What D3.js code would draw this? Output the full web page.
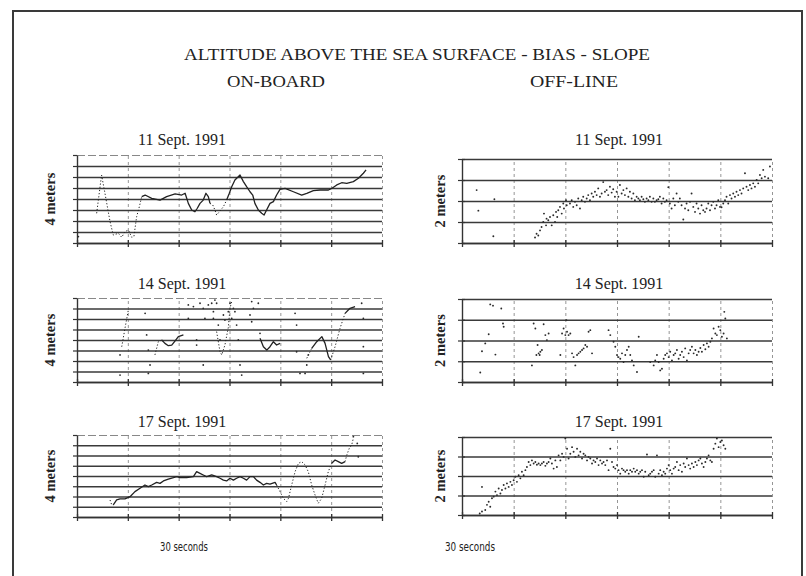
<!DOCTYPE html>
<html><head><meta charset="utf-8">
<script src="https://cdn.jsdelivr.net/npm/d3@7"></script>
<style>body{margin:0;background:#fff}svg{display:block}</style>
</head><body><svg id="c" width="806" height="576"></svg>
<script>
// ---------------- DATA ----------------
const mainTitle = "ALTITUDE ABOVE THE SEA SURFACE - BIAS - SLOPE";
const columnTitles = ["ON-BOARD", "OFF-LINE"];
const dates = ["11 Sept. 1991", "14 Sept. 1991", "17 Sept. 1991"];
const yLabels = ["4 meters", "2 meters"];
const xLabel = "30 seconds";
const xTicks = [0, 30, 60, 90, 120, 150, 180];          // seconds
const onboardTicks = [0, 0.5, 1, 1.5, 2, 2.5, 3, 3.5, 4]; // meters
const offlineTicks = [0, 0.5, 1, 1.5, 2];                 // meters

// on-board traces [seconds, meters]; null = break in record
const onboard11 = [[11.6,1.35],[14.5,3.09],[16.5,2.26],[19.5,0.97],[21.4,0.36],[24.4,0.44],[26.4,0.26],[28.3,0.52],[30.3,0.59],[32.3,0.26],[33.6,0.30],[35.2,1.20],[36.8,1.65],[38.2,2.11],[40.2,2.18],[44.1,2.03],[49.0,1.95],[52.9,2.11],[57.9,2.23],[61.8,2.18],[63.8,2.26],[65.7,1.80],[67.7,1.50],[69.6,1.42],[71.0,1.58],[72.6,1.80],[74.5,1.95],[76.1,2.26],[77.5,2.11],[78.5,1.80],[80.1,1.73],[81.4,1.50],[82.4,1.27],[84.0,1.42],[86.4,1.65],[88.3,1.95],[89.9,2.26],[91.3,2.56],[93.2,2.86],[96.2,3.09],[98.2,2.79],[100.1,2.56],[102.1,2.33],[103.7,2.18],[105.0,1.80],[107.0,1.50],[109.0,1.35],[110.4,1.27],[111.9,1.50],[113.9,1.80],[115.9,1.88],[117.8,2.18],[119.8,2.44],[122.8,2.48],[127.7,2.33],[132.6,2.18],[135.6,2.26],[139.5,2.38],[143.5,2.41],[148.4,2.41],[150.3,2.48],[153.3,2.64],[156.2,2.74],[159.2,2.71],[163.1,2.79],[166.1,2.94],[169.0,3.17],[170.6,3.32]];
const onboard11Interp = [[0,37.5],[79,88]];
const onboard11Dots = [[0.8,0.29]];

const onboard14 = [[26.4,1.68],[28.3,2.55],[30.3,3.43],null,[46.0,1.29],[48.0,1.92],[50.0,2.00],[51.9,1.84],[53.9,1.73],[55.9,1.76],[57.8,1.95],[59.8,2.16],[62.8,2.24],null,[82.4,2.40],[84.4,1.44],[85.4,1.29],[87.3,1.76],[89.3,2.60],[90.3,3.51],[91.3,3.83],null,[108.0,2.08],[110.0,1.68],[112.0,1.52],[113.9,1.68],[115.9,1.92],[117.8,1.76],[119.8,1.84],null,[135.6,1.13],[138.5,1.60],[141.5,1.92],[144.5,2.16],[146.4,1.84],[148.4,1.21],[149.7,1.05],[152.3,1.68],[155.2,2.55],[158.2,3.27],[161.1,3.51],[164.1,3.59]];
const onboard14Interp = [[25,31],[45,49],[81,92],[135,139],[149.5,158.5]];
const onboard14Dots = [[25.4,0.33],[25.4,1.29],[40.2,3.27],[41.1,2.24],[42.1,1.52],[43.1,0.81],[42.1,0.41],[65.7,3.67],[65.7,3.03],[68.7,3.59],[72.6,3.75],[74.5,3.51],[75.5,3.03],[77.5,3.67],[79.5,3.75],[80.5,3.03],[80.5,3.35],[81.4,3.90],[82.4,3.75],[83.4,2.71],[84.4,2.00],[86.4,3.19],[87.3,2.95],[90.3,3.75],[89.3,3.35],[91.3,3.03],[92.3,3.51],[93.2,3.35],[94.2,2.71],[95.2,2.00],[96.2,0.81],[97.2,0.33],[103.1,3.83],[104.1,3.51],[103.1,2.87],[102.1,3.19],[107.0,3.75],[108.0,2.32],[70.6,2.00],[70.6,1.76],[74.5,0.81],[128.7,3.27],[129.6,2.71],[129.6,1.44],[131.6,0.41],[134.6,0.41],[135.6,0.81],[136.5,1.29],[168.0,3.75],[169.0,3.03],[169.0,1.68],[169.0,0.41]];

const onboard17 = [[19.5,0.83],[20.5,0.59],[21.4,0.59],[23.4,0.83],[25.4,0.88],[28.3,0.88],[31.3,0.99],[34.2,1.24],[37.2,1.40],[40.1,1.56],[42.1,1.48],[44.1,1.56],[47.0,1.69],[49.0,1.64],[51.0,1.76],[53.9,1.85],[56.9,1.92],[58.8,1.97],[60.8,1.92],[64.7,1.92],[68.7,1.97],[70.6,2.21],[72.6,2.13],[74.5,2.05],[76.5,1.97],[79.5,2.05],[82.4,1.97],[84.4,1.89],[86.4,1.80],[88.3,1.76],[90.3,1.89],[92.3,1.80],[94.2,1.89],[96.2,1.97],[98.2,1.89],[100.1,1.80],[102.1,1.97],[104.1,1.97],[106.0,1.80],[108.0,1.69],[110.0,1.56],[111.9,1.64],[113.9,1.60],[116.9,1.69],[117.8,1.56],[119.8,1.24],[121.8,0.91],[123.8,0.75],[124.8,0.91],[126.7,1.56],[128.7,2.21],[130.7,2.62],[132.6,2.70],[134.6,2.54],[136.5,2.21],[138.5,1.56],[140.5,1.07],[142.4,0.67],[144.4,0.91],[146.4,1.56],[148.3,2.21],[150.3,2.62],[152.3,2.78],[154.2,2.70],[156.2,2.62],[158.2,2.70],[159.2,3.02],[160.7,3.35],[162.1,3.51],[163.1,3.84]];
const onboard17Interp = [[19,21],[118,150],[158.5,170]];
const onboard17Dots = [[163.1,3.92],[165.4,3.59],[166.0,2.94]];

// off-line estimates [seconds, meters]
const offline11 = [[8.5,1.26],[9.5,0.77],[18.2,0.16],[18.8,1.04],[42.4,0.13],[43.3,0.22],[44.3,0.18],[45.3,0.30],[46.2,0.38],[47.2,0.50],[47.6,0.70],[48.8,0.42],[49.1,0.58],[50.1,0.54],[51.1,0.62],[52.1,0.42],[53.0,0.66],[54.0,0.50],[54.6,0.74],[55.3,0.62],[55.9,0.78],[56.9,0.86],[57.9,0.70],[58.8,0.94],[59.2,0.82],[60.4,1.02],[60.8,0.90],[62.7,0.94],[63.7,1.02],[64.6,0.86],[65.6,0.98],[66.6,0.90],[67.5,1.06],[68.5,0.82],[69.5,1.02],[70.4,1.10],[71.4,0.98],[72.4,1.06],[73.3,1.14],[74.3,1.02],[75.3,1.18],[76.2,1.10],[77.2,1.22],[78.2,1.14],[79.1,1.30],[80.1,1.10],[81.1,1.18],[82.0,1.45],[83.0,1.22],[84.0,1.26],[84.9,1.14],[85.9,1.34],[86.9,1.20],[87.8,1.28],[88.8,1.10],[89.8,1.22],[90.8,1.10],[91.7,1.38],[92.7,1.18],[93.7,1.26],[94.6,1.14],[95.6,1.30],[96.6,1.10],[97.5,1.22],[98.5,1.06],[99.5,1.18],[100.4,1.02],[101.4,1.10],[102.4,1.06],[103.3,1.02],[104.3,1.10],[105.3,1.04],[106.2,0.98],[107.2,1.06],[108.2,1.02],[109.1,1.10],[110.1,0.98],[111.1,1.06],[112.0,0.98],[113.0,1.02],[114.0,1.04],[114.9,1.10],[115.9,0.94],[116.9,1.06],[117.8,0.98],[118.8,1.02],[119.8,1.33],[120.7,0.94],[121.7,0.82],[122.7,1.06],[123.6,0.90],[124.6,1.18],[125.6,0.98],[126.5,1.06],[127.5,0.90],[128.5,0.56],[129.5,0.82],[130.4,0.94],[131.4,0.78],[132.4,0.98],[133.3,1.18],[134.3,0.86],[135.3,0.74],[136.2,0.94],[137.2,0.82],[138.2,0.70],[139.1,0.90],[140.1,0.78],[141.1,0.74],[142.0,0.82],[143.0,0.94],[144.0,0.78],[144.9,0.90],[145.9,0.98],[146.9,0.82],[147.8,0.90],[148.8,1.02],[149.8,0.86],[150.7,0.85],[151.7,0.94],[152.7,1.02],[153.6,1.10],[154.6,0.94],[155.6,1.14],[156.5,1.06],[157.5,1.18],[158.5,1.10],[159.4,1.22],[160.4,1.14],[161.4,1.26],[162.3,1.18],[163.3,1.30],[164.3,1.66],[165.2,1.34],[166.2,1.26],[167.2,1.38],[168.1,1.30],[169.1,1.42],[170.1,1.34],[171.1,1.50],[172.0,1.42],[173.0,1.62],[174.0,1.54],[174.9,1.74],[175.9,1.58],[177.8,1.54],[178.8,1.82]];

const offline14 = [[10.6,0.23],[11.6,0.74],[13.5,0.93],[15.5,1.15],[16.4,1.87],[18.0,1.84],[19.4,0.66],[22.8,1.77],[23.8,1.41],[24.2,1.33],[40.6,0.40],[41.6,1.41],[42.6,1.29],[43.2,0.65],[43.9,0.89],[44.5,0.69],[45.1,0.65],[45.5,0.73],[46.4,0.77],[47.4,1.39],[48.4,1.13],[49.3,1.01],[50.3,1.17],[57.1,0.65],[58.1,1.17],[59.0,1.29],[60.0,1.13],[60.6,1.49],[61.0,1.21],[61.9,1.13],[62.9,1.17],[63.9,0.69],[64.8,0.60],[65.8,0.40],[66.8,0.65],[67.7,0.69],[68.7,0.73],[69.7,0.77],[70.6,0.81],[71.6,0.89],[72.6,0.85],[73.5,1.21],[74.5,1.25],[75.5,0.69],[85.1,1.25],[86.1,1.13],[88.0,0.97],[89.0,0.85],[90.0,0.65],[90.9,0.60],[91.9,0.56],[92.9,0.69],[93.8,0.48],[94.8,0.65],[95.8,0.77],[96.8,0.85],[97.7,0.65],[98.7,0.52],[99.7,0.40],[101.6,0.24],[102.6,1.09],[109.3,0.48],[111.3,0.40],[112.2,0.52],[113.2,0.65],[114.2,0.48],[115.1,0.28],[116.1,0.32],[117.1,0.56],[118.0,0.65],[119.0,0.69],[120.0,0.60],[120.9,0.73],[121.9,0.52],[122.9,0.65],[123.8,0.69],[124.8,0.77],[125.8,0.56],[126.7,0.65],[127.7,0.73],[128.7,0.60],[129.6,0.81],[130.6,0.52],[131.6,0.69],[132.5,0.77],[133.5,0.85],[134.5,0.69],[135.5,0.77],[136.4,0.65],[137.4,0.73],[138.4,0.82],[139.3,0.73],[140.3,0.89],[141.3,0.79],[142.2,0.93],[143.2,0.85],[144.2,0.97],[145.1,1.05],[146.1,1.29],[147.1,1.17],[148.0,1.13],[149.0,1.33],[150.0,1.25],[150.9,1.09],[151.9,1.17],[152.3,1.69],[152.9,1.53],[153.8,1.05]];

const offline17 = [[11.6,0.72],[10.3,0.04],[11.6,0.09],[13.5,0.13],[14.5,0.26],[15.5,0.34],[16.4,0.21],[17.4,0.43],[18.4,0.47],[19.4,0.60],[20.3,0.51],[21.3,0.68],[22.3,0.55],[23.2,0.64],[24.2,0.77],[25.2,0.68],[26.1,0.81],[27.1,0.72],[28.1,0.85],[29.0,0.77],[30.0,0.89],[31.0,0.98],[31.9,0.85],[32.9,1.02],[33.9,0.94],[34.8,1.11],[35.8,1.02],[36.8,1.15],[37.7,1.23],[38.7,1.36],[39.7,1.28],[40.6,1.40],[41.6,1.32],[42.6,1.36],[43.5,1.29],[44.5,1.32],[45.5,1.28],[46.4,1.32],[47.4,1.36],[48.4,1.26],[49.3,1.32],[50.3,1.36],[51.3,1.45],[52.2,1.32],[53.2,1.19],[54.2,1.40],[55.1,1.23],[56.1,1.53],[57.1,1.40],[58.1,1.57],[59.0,1.49],[60.0,1.96],[61.0,1.70],[61.9,1.45],[62.9,1.57],[63.9,1.74],[64.8,1.62],[65.8,1.49],[66.8,1.70],[67.7,1.53],[68.7,1.62],[69.7,1.45],[70.6,1.57],[71.6,1.53],[72.6,1.40],[73.5,1.49],[74.5,1.45],[75.5,1.32],[76.4,1.40],[77.4,1.36],[78.4,1.45],[79.3,1.28],[80.3,1.40],[81.3,1.32],[82.2,1.36],[83.2,1.28],[84.2,1.40],[85.1,1.15],[86.1,1.70],[87.1,1.36],[88.0,1.23],[89.0,1.19],[90.0,1.28],[90.9,1.15],[91.9,1.06],[92.9,1.19],[93.8,1.15],[94.8,1.11],[95.8,1.15],[96.8,1.06],[97.7,1.15],[98.7,1.11],[99.7,1.19],[100.6,1.11],[101.6,1.15],[102.6,1.06],[103.5,1.11],[104.5,1.15],[105.5,0.98],[106.4,1.11],[107.4,1.55],[108.4,1.02],[109.3,1.06],[110.3,1.11],[111.3,1.15],[112.2,0.98],[113.2,1.53],[114.2,1.06],[115.1,1.15],[116.1,1.02],[117.1,1.11],[118.0,1.06],[119.0,1.19],[120.0,1.28],[120.9,1.15],[121.9,1.06],[122.9,1.19],[123.8,1.23],[124.8,1.36],[125.8,1.15],[126.7,1.28],[127.7,1.11],[128.7,1.32],[129.6,1.23],[130.6,1.45],[131.6,1.28],[132.5,1.19],[133.5,1.32],[134.5,1.23],[135.5,1.36],[136.4,1.28],[137.4,1.40],[138.4,1.45],[139.3,1.32],[140.3,1.23],[141.3,1.36],[142.2,1.45],[143.2,1.53],[144.2,1.40],[145.1,1.36],[146.1,1.70],[147.1,1.83],[148.0,1.96],[149.0,1.74],[150.0,1.87],[150.9,1.91],[151.9,1.79],[152.9,1.70]];

// ---------------- DRAWING ----------------
const svg = d3.select("#c");
const SERIF = "'Liberation Serif','Times New Roman',serif";
svg.append("rect").attr("width",806).attr("height",576).attr("fill","#fff");
svg.append("rect").attr("x",13).attr("y",11).attr("width",789).attr("height",600)
  .attr("fill","none").attr("stroke","#3a3a3a").attr("stroke-width",2);

const txt = (x,y,s,size,opts={}) => {
  const t = svg.append("text").attr("x",x).attr("y",y).attr("text-anchor","middle")
    .attr("font-family",opts.family||SERIF).attr("font-size",size).attr("fill","#222").text(s);
  if (opts.len) t.attr("textLength",opts.len).attr("lengthAdjust","spacingAndGlyphs");
  if (opts.weight) t.attr("font-weight",opts.weight);
  if (opts.rot) t.attr("transform",`rotate(-90,${x},${y})`);
  return t;
};
txt(417,60,mainTitle,17,{len:466});
txt(276,87,columnTitles[0],17,{len:98});
txt(574,87,columnTitles[1],17,{len:88});

const left = {x0:77, x1:382, tops:[155,298,435], bots:[243,382,517], titleX:182, labelX:55};
const right = {x0:462, x1:772, tops:[159,299,437], bots:[243,382,515], titleX:619, labelX:445};
const titleY = [145,289,427];

function frame(cfg, i, ymax, yticks, kind){
  const y0 = cfg.tops[i], y1 = cfg.bots[i];
  const x = d3.scaleLinear().domain([0,180]).range([cfg.x0,cfg.x1]);
  const y = d3.scaleLinear().domain([0,ymax]).range([y1,y0]);
  const g = svg.append("g");
  // vertical dashed grid
  g.append("g").attr("transform",`translate(0,${y1})`)
    .call(d3.axisBottom(x).tickValues(xTicks).tickSize(-(y1-y0)).tickFormat(""))
    .call(a=>{a.select(".domain").remove();
      a.selectAll(".tick line").attr("stroke","#8a8a8a").attr("stroke-width",0.9).attr("stroke-dasharray","3,3");});
  // horizontal grid
  g.append("g").attr("transform",`translate(${cfg.x0},0)`)
    .call(d3.axisLeft(y).tickValues(yticks).tickSize(-(cfg.x1-cfg.x0)).tickFormat(""))
    .call(a=>{a.select(".domain").remove();
      a.selectAll(".tick line").attr("stroke","#3a3a3a").attr("stroke-width",kind==="L"?1.3:1.7)
       .filter(d=>d===ymax && kind==="L").attr("stroke","#888").attr("stroke-width",1).attr("stroke-dasharray","8,3");});
  // left axis with crossing ticks
  g.append("g").attr("transform",`translate(${cfg.x0},0)`)
    .call(d3.axisLeft(y).tickValues(yticks).tickSize(4).tickSizeOuter(0).tickFormat(""))
    .call(a=>{a.select(".domain").attr("stroke","#333").attr("stroke-width",1.4);
      a.selectAll(".tick line").attr("x2",-4).attr("x1",kind==="L"?0:3).attr("stroke","#333").attr("stroke-width",1.2);});
  // bottom axis with crossing ticks
  g.append("g").attr("transform",`translate(0,${y1})`)
    .call(d3.axisBottom(x).tickValues(xTicks).tickSize(4).tickSizeOuter(0).tickFormat(""))
    .call(a=>{a.select(".domain").attr("stroke","#333").attr("stroke-width",1.5);
      a.selectAll(".tick line").attr("y1",-3).attr("y2",4).attr("stroke","#333").attr("stroke-width",1.3);});
  txt(cfg.titleX, titleY[i], dates[i], 16);
  txt(cfg.labelX, (y0+y1)/2, yLabels[kind==="L"?0:1], 14.5, {weight:"bold", rot:true});
  return {g,x,y};
}

function traceWithGaps(p, series, interp){
  const segs = [];
  for (let k=0;k<series.length-1;k++){
    const a=series[k], b=series[k+1];
    if(!a||!b) continue;
    const mid=(a[0]+b[0])/2;
    const dotted = interp.some(r=>mid>=r[0]&&mid<=r[1]);
    const last = segs[segs.length-1];
    if(last && last.dotted===dotted && last.pts[last.pts.length-1]===a) last.pts.push(b);
    else segs.push({dotted, pts:[a,b]});
  }
  const line = d3.line().x(d=>p.x(d[0])).y(d=>p.y(d[1])).curve(d3.curveLinear);
  p.g.selectAll(null).data(segs).join("path").attr("d",d=>line(d.pts))
    .attr("fill","none").attr("stroke","#222")
    .attr("stroke-width",d=>d.dotted?1:1.3)
    .attr("stroke-dasharray",d=>d.dotted?"1.2,2":null)
    .attr("stroke-linejoin","round");
}
function dots(p, pts, r){
  p.g.selectAll(null).data(pts).join("circle")
    .attr("cx",d=>p.x(d[0])).attr("cy",d=>p.y(d[1])).attr("r",r).attr("fill","#2a2a2a");
}

const onboard = [[onboard11,onboard11Interp,onboard11Dots],[onboard14,onboard14Interp,onboard14Dots],[onboard17,onboard17Interp,onboard17Dots]];
const offline = [offline11, offline14, offline17];
onboard.forEach((s,i)=>{
  const p = frame(left,i,4,onboardTicks,"L");
  traceWithGaps(p, s[0], s[1]);
  dots(p, s[2], 0.9);
});
offline.forEach((s,i)=>{
  const p = frame(right,i,2,offlineTicks,"R");
  dots(p, s, 0.95);
});

txt(184,551,xLabel,12,{family:"'Liberation Sans Narrow','DejaVu Sans Condensed','DejaVu Sans',sans-serif",len:48});
txt(470,551,xLabel,12,{family:"'Liberation Sans Narrow','DejaVu Sans Condensed','DejaVu Sans',sans-serif",len:50});
</script></body></html>
